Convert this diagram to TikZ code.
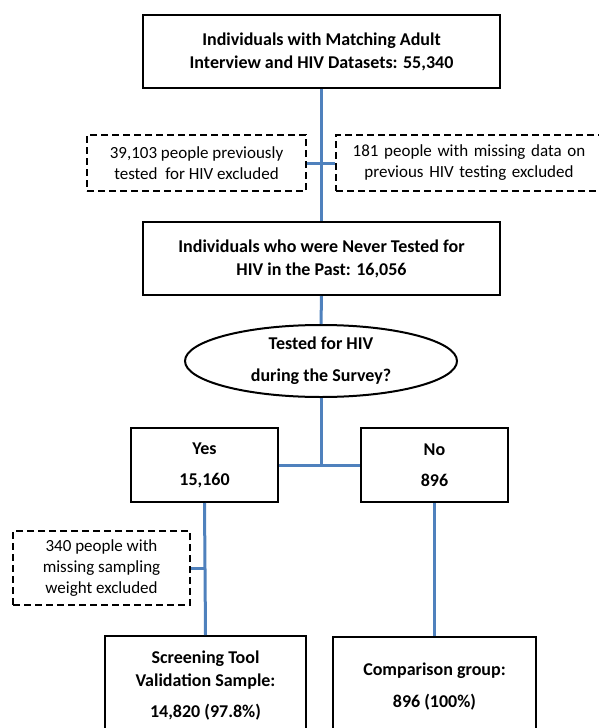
\documentclass[tikz,border=0pt]{standalone}
\usepackage{fontspec}
\setmainfont{Carlito}
\usetikzlibrary{shapes.geometric}
\definecolor{linkblue}{RGB}{79,129,189}
\begin{document}
\begin{tikzpicture}[x=1pt,y=-1pt,
	box/.style={draw, line width=2pt, align=center, font=\bfseries\fontsize{18}{23}\selectfont, inner sep=0pt},
	dashbox/.style={draw, dash pattern=on 7pt off 4pt, line width=2.8pt, align=center, font=\fontsize{17}{21}\selectfont, inner sep=0pt},
	link/.style={draw=linkblue, line width=3pt}]
	\useasboundingbox (0,0) rectangle (599,728);
	\clip (0,0) rectangle (599,728);
	
	\node[box, minimum width=357pt, minimum height=73pt] (all) at (321.5,51.5) {Individuals with Matching Adult\\Interview and HIV Datasets: 55,340};
	\node[dashbox, minimum width=219pt, minimum height=56pt] (prev) at (196.5,163) {39,103 people previously\\tested\ \ for HIV excluded};
	\node[dashbox, minimum width=266pt, minimum height=56pt, text width=266pt] (miss) at (469,163) {181 people with missing data on\\previous HIV testing excluded};
	\node[box, minimum width=357pt, minimum height=73pt] (never) at (321.5,258.5) {Individuals who were Never Tested for\\HIV in the Past: 16,056};
	\node[draw, ellipse, line width=2pt, minimum width=272pt, minimum height=72pt, inner sep=0pt, align=center, font=\bfseries\fontsize{18}{32}\selectfont] (survey) at (321,361) {Tested for HIV\\during the Survey?};
	\node[box, minimum width=147pt, minimum height=74pt, font=\bfseries\fontsize{18}{31}\selectfont] (yes) at (204.5,465) {Yes\\15,160};
	\node[box, minimum width=147pt, minimum height=74pt, font=\bfseries\fontsize{18}{31}\selectfont] (no) at (434.5,465) {No\\896};
	\node[dashbox, minimum width=177pt, minimum height=74pt] (weight) at (101.5,568) {340 people with\\missing sampling\\weight excluded};
	\node[box, minimum width=201pt, minimum height=100pt, anchor=north] (sample) at (205.5,635) {Screening Tool\\Validation Sample:\\[8pt]14,820 (97.8\%)};
	\node[box, minimum width=203pt, minimum height=100pt, anchor=north, font=\bfseries\fontsize{18}{32}\selectfont] (comp) at (434.5,636) {Comparison group:\\896 (100\%)};
	
	\coordinate (split) at (survey.south |- yes.east);
	\draw[link] (all.south) -- (never.north);
	\draw[link] (prev.east) -- (miss.west);
	\draw[link] (never.south) -- (survey.north);
	\draw[link] (survey.south) -- (split);
	\draw[link] (yes.east) -- (no.west);
	\draw[link] (yes.south) -- (sample.north);
	\draw[link] (no.south) -- (comp.north);
	\draw[link] (weight.east) -- (weight.east -| yes.south);
\end{tikzpicture}
\end{document}
